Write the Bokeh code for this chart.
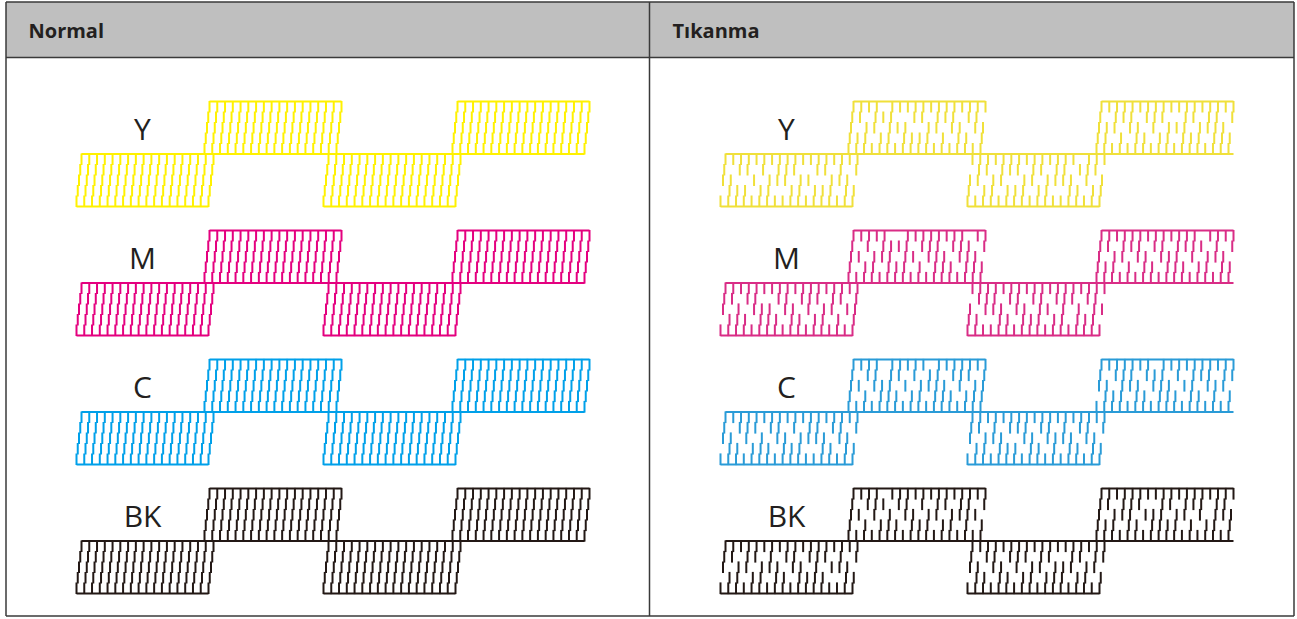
from bokeh.plotting import figure
from bokeh.models import Range1d
from bokeh.core.properties import value
from bokeh.embed import file_html
from bokeh.resources import INLINE

# ---------------- data ----------------
headers = ["Normal", "Tıkanma"]
labels = ["Y", "M", "C", "BK"]
colors_normal = ["#fff100", "#e4007f", "#00a0e9", "#231815"]
colors_clogged = ["#f0e03a", "#d92d86", "#2a9bd7", "#231815"]
block_levels = ["low", "up", "low", "up"]
columns_per_block = 18
segments_per_column = 5

# clogged pattern: per colour, per block, rows listed top -> bottom ('1' = printed)
clogged_Y = [
    ["111111111111111111", "101101011100110101", "110010111011001110", "011101100110111011", "111111111111111111"],
    ["111101111111111111", "110111001101110110", "101101110011011011", "111011011110101101", "111111111111111111"],
    ["111111111111110111", "011011101101101110", "110110011011110101", "101101110110011011", "111111111111111111"],
    ["111111111111111111", "101110111001101101", "111011010111011110", "110101101101110111", "111111111111111111"],
]
clogged_M = [
    ["111111111111111111", "110110011011101101", "101011101101011011", "011101110110110101", "111111111111111111"],
    ["111110011111111011", "101011110111011101", "110111011011101110", "101101110101110111", "111111111111111111"],
    ["111111111111111111", "011101101101110110", "101110110110101011", "110011011101101110", "111111111111111111"],
    ["111111111111101111", "110111011011110101", "101101101110101110", "111010110111011011", "111111111111111111"],
]
clogged_C = [
    ["111111111111111111", "101110110101101101", "110101011011110110", "011011101110011011", "111111111111111111"],
    ["111101111101111111", "101101101011011101", "110111010111101011", "101011101101110111", "111111111111111111"],
    ["111111111111111111", "110101110110101101", "101110011011110110", "011011101101011011", "111111111111111111"],
    ["111111101111111111", "101110111010111011", "110111011101101110", "011101101110110101", "111111111111111111"],
]
clogged_BK = [
    ["111111111111111111", "110110101101110101", "101101110110101110", "011011011011110011", "111111111111111111"],
    ["111101111111111111", "101110110101101101", "110101011011011110", "101011101110110101", "111111111111111111"],
    ["111111111111111111", "101101110110011011", "110110101101110110", "011011011011101101", "111111111111111111"],
    ["111111111111111111", "110111001101110110", "101110111011010111", "111011011110101101", "111111111111111111"],
]
clogged_patterns = [clogged_Y, clogged_M, clogged_C, clogged_BK]

# ---------------- layout (reference pixel coordinates) ----------------
ROW_TOPS = [101, 230, 359, 488]
BLOCK_X = [76, 204, 323, 452]
PANEL_OFFSET = [0, 644]
BLOCK_W = 132.0
BLOCK_H = 52.5
SLANT = 5.0
LABEL_X = 142
INK = "#231f20"

p = figure(width=1297, height=619, output_backend="svg", toolbar_location=None,
           x_range=Range1d(0, 1297), y_range=Range1d(619, 0),
           min_border=0)
p.axis.visible = False
p.grid.visible = False
p.outline_line_color = None
p.background_fill_color = "white"

# header band
p.quad(left=[5.5], right=[1293.5], top=[1.5], bottom=[57], fill_color="#bfbfbf", line_color=None)

for panel in range(2):
    off = PANEL_OFFSET[panel]
    for ci in range(len(labels)):
        top = ROW_TOPS[ci]
        mid = top + BLOCK_H
        bot = top + 2 * BLOCK_H
        col = colors_normal[ci] if panel == 0 else colors_clogged[ci]
        x0s, y0s, x1s, y1s = [], [], [], []
        hx0, hx1, hy = [], [], []
        for b in range(4):
            xb = BLOCK_X[b] + off
            if block_levels[b] == "low":
                yb, yt = bot, mid
                hx0.append(xb); hx1.append(xb + BLOCK_W); hy.append(bot)
            else:
                yb, yt = mid, top
                hx0.append(xb + SLANT); hx1.append(xb + BLOCK_W + SLANT); hy.append(top)
            h = (yb - yt) / segments_per_column
            for i in range(columns_per_block):
                x0 = xb + i * BLOCK_W / (columns_per_block - 1)
                for j in range(segments_per_column):
                    if panel == 1:
                        row = clogged_patterns[ci][b][segments_per_column - 1 - j]
                        if row[i] != "1":
                            continue
                    xs = x0 + SLANT * j / (segments_per_column - 1)
                    ylo = yb - j * h + 0.6
                    yhi = yb - (j + 1) * h - 0.6
                    x0s.append(xs); x1s.append(xs); y0s.append(ylo); y1s.append(yhi)
        # middle line
        start = BLOCK_X[0] + off + SLANT
        end = BLOCK_X[3] + off + BLOCK_W + (0 if panel == 0 else SLANT)
        hx0.append(start); hx1.append(end); hy.append(mid)
        p.segment(x0=x0s, y0=y0s, x1=x1s, y1=y1s, line_color=col, line_width=2)
        p.segment(x0=hx0, y0=hy, x1=hx1, y1=hy, line_color=col, line_width=2.2)
        p.text(x=[LABEL_X + off], y=[top + 27], text=[labels[ci]], text_align="center",
               text_baseline="middle", text_font=value("Open Sans"), text_font_size="30px",
               text_color=INK)

# header texts
p.text(x=[28, 672], y=[30, 30], text=headers, text_align="left", text_baseline="middle",
       text_font=value("Open Sans"), text_font_style="bold", text_font_size="20px", text_color=INK)

# borders
p.segment(x0=[5.5, 5.5, 5.5, 1293.5, 5.5, 649],
          y0=[1.5, 615.5, 1.5, 1.5, 57, 1.5],
          x1=[1293.5, 1293.5, 5.5, 1293.5, 1293.5, 649],
          y1=[1.5, 615.5, 615.5, 615.5, 57, 615.5],
          line_color="#3a3a3a", line_width=1.5)

open("out.html", "w").write(file_html(p, INLINE))
